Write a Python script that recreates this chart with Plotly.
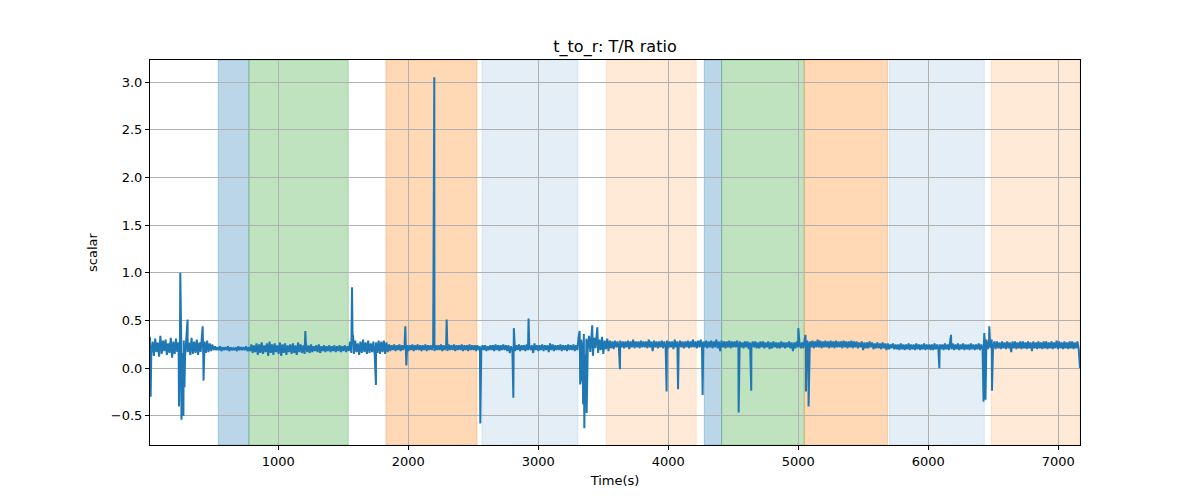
import numpy as np
import plotly.graph_objects as go

# ---- data ----
t_start, t_end = 13, 7167

# upper edge of the noisy trace, one sample every ~20 s
band_top = [
    0.33, 0.28, 0.31, 0.27, 0.34, 0.29, 0.30, 0.26, 0.32, 0.28, 0.31, 0.27, 0.33, 0.29, 0.30, 0.27, 0.32, 0.28,
    0.30, 0.27, 0.31, 0.28, 0.29, 0.26, 0.25, 0.23, 0.22, 0.23, 0.22, 0.22, 0.23, 0.22, 0.21, 0.22, 0.23, 0.22,
    0.22, 0.23, 0.22, 0.25, 0.24, 0.26, 0.25, 0.27, 0.24, 0.26, 0.28, 0.25, 0.26, 0.24, 0.27, 0.25, 0.26, 0.24,
    0.25, 0.26, 0.24, 0.27, 0.25, 0.24, 0.26, 0.24, 0.25, 0.23, 0.24, 0.25, 0.23, 0.24, 0.23, 0.24, 0.23, 0.24,
    0.23, 0.24, 0.23, 0.24, 0.23, 0.28, 0.27, 0.29, 0.26, 0.28, 0.30, 0.27, 0.29, 0.26, 0.28, 0.27, 0.29, 0.28,
    0.29, 0.27, 0.25, 0.24, 0.25, 0.24, 0.25, 0.24, 0.25, 0.24, 0.24, 0.25, 0.24, 0.25, 0.24, 0.24, 0.25, 0.24,
    0.24, 0.25, 0.24, 0.24, 0.25, 0.24, 0.24, 0.25, 0.24, 0.25, 0.24, 0.24, 0.25, 0.24, 0.24, 0.25, 0.24, 0.24,
    0.24, 0.23, 0.24, 0.24, 0.23, 0.24, 0.24, 0.25, 0.24, 0.24, 0.25, 0.24, 0.24, 0.23, 0.24, 0.24, 0.25, 0.24,
    0.24, 0.25, 0.24, 0.24, 0.26, 0.24, 0.24, 0.25, 0.24, 0.24, 0.26, 0.25, 0.24, 0.24, 0.25, 0.24, 0.24, 0.25,
    0.24, 0.25, 0.24, 0.33, 0.30, 0.36, 0.31, 0.34, 0.38, 0.32, 0.35, 0.30, 0.33, 0.29, 0.31, 0.29, 0.28, 0.29,
    0.28, 0.29, 0.28, 0.28, 0.29, 0.28, 0.30, 0.28, 0.28, 0.29, 0.28, 0.28, 0.30, 0.28, 0.29, 0.28, 0.28, 0.29,
    0.28, 0.29, 0.28, 0.28, 0.30, 0.28, 0.29, 0.28, 0.28, 0.29, 0.28, 0.30, 0.28, 0.29, 0.30, 0.28, 0.29, 0.28,
    0.29, 0.28, 0.30, 0.28, 0.29, 0.28, 0.28, 0.29, 0.28, 0.28, 0.29, 0.28, 0.27, 0.28, 0.28, 0.27, 0.28, 0.28,
    0.27, 0.28, 0.28, 0.27, 0.28, 0.27, 0.28, 0.27, 0.27, 0.28, 0.27, 0.27, 0.28, 0.27, 0.27, 0.28, 0.27, 0.27,
    0.30, 0.29, 0.28, 0.29, 0.28, 0.30, 0.29, 0.28, 0.29, 0.28, 0.29, 0.28, 0.29, 0.28, 0.28, 0.29, 0.28, 0.28,
    0.29, 0.28, 0.28, 0.27, 0.28, 0.27, 0.27, 0.28, 0.27, 0.26, 0.27, 0.26, 0.27, 0.26, 0.26, 0.25, 0.26, 0.25,
    0.25, 0.26, 0.25, 0.25, 0.26, 0.25, 0.25, 0.26, 0.25, 0.25, 0.26, 0.25, 0.25, 0.25, 0.26, 0.25, 0.25, 0.25,
    0.26, 0.25, 0.28, 0.26, 0.25, 0.26, 0.25, 0.26, 0.25, 0.25, 0.26, 0.25, 0.25, 0.26, 0.25, 0.25, 0.30, 0.29,
    0.30, 0.28, 0.28, 0.27, 0.28, 0.27, 0.28, 0.27, 0.28, 0.28, 0.27, 0.28, 0.28, 0.27, 0.28, 0.27, 0.28, 0.27,
    0.28, 0.27, 0.28, 0.28, 0.27, 0.28, 0.27, 0.29, 0.28, 0.27, 0.28, 0.27, 0.28, 0.28, 0.27, 0.28, 0.00,
]

# lower edge of the noisy trace, sampled half-way between the samples above
band_bottom = [
    0.16, 0.13, 0.17, 0.12, 0.15, 0.18, 0.14, 0.16, 0.11, 0.15, 0.17, 0.13, 0.16, 0.12, 0.17, 0.14, 0.15, 0.16,
    0.14, 0.17, 0.13, 0.16, 0.17, 0.18, 0.19, 0.19, 0.19, 0.18, 0.19, 0.19, 0.18, 0.19, 0.19, 0.18, 0.19, 0.19,
    0.19, 0.18, 0.18, 0.16, 0.17, 0.14, 0.16, 0.15, 0.17, 0.13, 0.16, 0.14, 0.17, 0.15, 0.13, 0.16, 0.14, 0.17,
    0.15, 0.16, 0.14, 0.17, 0.16, 0.15, 0.17, 0.16, 0.17, 0.18, 0.17, 0.16, 0.18, 0.17, 0.18, 0.17, 0.18, 0.17,
    0.18, 0.17, 0.18, 0.17, 0.18, 0.16, 0.15, 0.17, 0.14, 0.16, 0.17, 0.15, 0.16, 0.17, 0.14, 0.16, 0.15, 0.17,
    0.15, 0.17, 0.18, 0.19, 0.18, 0.19, 0.18, 0.19, 0.19, 0.18, 0.19, 0.18, 0.19, 0.19, 0.18, 0.19, 0.18, 0.19,
    0.19, 0.18, 0.19, 0.19, 0.18, 0.19, 0.18, 0.19, 0.19, 0.18, 0.19, 0.19, 0.18, 0.19, 0.18, 0.19, 0.19, 0.18,
    0.19, 0.18, 0.19, 0.18, 0.19, 0.19, 0.18, 0.19, 0.18, 0.19, 0.19, 0.18, 0.16, 0.19, 0.18, 0.19, 0.18, 0.19,
    0.18, 0.19, 0.19, 0.16, 0.19, 0.18, 0.19, 0.18, 0.19, 0.17, 0.19, 0.18, 0.19, 0.19, 0.18, 0.19, 0.18, 0.19,
    0.19, 0.18, 0.19, 0.16, 0.19, 0.14, 0.20, 0.17, 0.13, 0.21, 0.16, 0.19, 0.15, 0.20, 0.18, 0.21, 0.20, 0.22,
    0.21, 0.22, 0.21, 0.22, 0.20, 0.22, 0.21, 0.22, 0.21, 0.22, 0.22, 0.21, 0.22, 0.18, 0.22, 0.21, 0.22, 0.21,
    0.22, 0.21, 0.22, 0.20, 0.22, 0.21, 0.22, 0.21, 0.22, 0.21, 0.22, 0.22, 0.21, 0.22, 0.21, 0.22, 0.21, 0.22,
    0.21, 0.22, 0.21, 0.18, 0.22, 0.21, 0.22, 0.21, 0.22, 0.22, 0.21, 0.22, 0.21, 0.22, 0.20, 0.21, 0.22, 0.21,
    0.21, 0.22, 0.21, 0.22, 0.20, 0.21, 0.22, 0.21, 0.21, 0.22, 0.21, 0.22, 0.21, 0.18, 0.21, 0.22, 0.21, 0.21,
    0.21, 0.22, 0.22, 0.21, 0.22, 0.22, 0.21, 0.22, 0.22, 0.21, 0.22, 0.21, 0.22, 0.22, 0.21, 0.22, 0.21, 0.22,
    0.21, 0.22, 0.21, 0.22, 0.19, 0.21, 0.21, 0.22, 0.20, 0.21, 0.21, 0.20, 0.21, 0.19, 0.20, 0.21, 0.20, 0.20,
    0.19, 0.20, 0.19, 0.20, 0.19, 0.20, 0.19, 0.20, 0.19, 0.20, 0.19, 0.20, 0.19, 0.19, 0.20, 0.19, 0.20, 0.19,
    0.20, 0.19, 0.20, 0.19, 0.20, 0.19, 0.20, 0.19, 0.20, 0.19, 0.20, 0.19, 0.20, 0.19, 0.20, 0.19, 0.20, 0.21,
    0.21, 0.20, 0.21, 0.20, 0.21, 0.20, 0.21, 0.17, 0.21, 0.20, 0.21, 0.20, 0.21, 0.20, 0.21, 0.18, 0.21, 0.20,
    0.21, 0.20, 0.21, 0.20, 0.21, 0.20, 0.21, 0.20, 0.21, 0.20, 0.21, 0.20, 0.21, 0.20, 0.21, 0.20,
]

spike_t = [18, 236, 246, 255, 262, 270, 278, 302, 418, 425, 1208, 1567, 1575, 1751, 1977, 1985,
           2200, 2295, 2554, 2808, 2812, 2925, 3318, 3322, 3330, 3345, 3354, 3365, 3372, 3415, 3454,
           3628, 3987, 4075, 4264, 4541, 4638, 5000, 5055, 5059, 5079, 6085, 6175, 6425, 6431,
           6440, 6469, 6490]
spike_v = [-0.30, -0.40, 1.00, -0.54, -0.30, -0.50, -0.20, 0.51, 0.44, -0.13, 0.39, 0.85, 0.35, -0.175, 0.44, 0.03,
           3.05, 0.51, -0.58, -0.31, 0.42, 0.52, 0.39, -0.17, -0.10, -0.38, -0.63, -0.15, -0.47, 0.45, 0.43,
           -0.01, -0.245, -0.22, -0.28, -0.465, -0.235, 0.42, 0.35, -0.245, -0.40, 0.00, 0.35, -0.35, 0.37,
           -0.33, 0.44, -0.235]

# shaded phases
span_start = [538, 774, 1828, 2567, 3523, 4277, 4410, 5046, 5700, 6485]
span_end = [774, 1538, 2528, 3305, 4215, 4410, 5046, 5687, 6431, 7167]
span_kind = ["blue", "green", "orange", "lightblue", "lightorange",
             "blue", "green", "orange", "lightblue", "lightorange"]

kind_color = {
    "blue": "rgba(31,119,180,0.30)",
    "green": "rgba(44,160,44,0.30)",
    "orange": "rgba(255,127,14,0.30)",
    "lightblue": "rgba(31,119,180,0.12)",
    "lightorange": "rgba(255,127,14,0.16)",
}

# ---- build series ----
top_t = np.linspace(t_start, t_end, len(band_top))
bottom_t = (top_t[:-1] + top_t[1:]) / 2
all_t = np.concatenate([top_t, bottom_t, np.array(spike_t, dtype=float)])
all_v = np.concatenate([np.array(band_top), np.array(band_bottom), np.array(spike_v)])
order = np.argsort(all_t, kind="stable")
all_t = all_t[order]
all_v = all_v[order]

fig = go.Figure()
fig.add_trace(go.Scatter(x=all_t, y=all_v, mode="lines",
                         line=dict(color="#1f77b4", width=2), showlegend=False))

for s, e, k in zip(span_start, span_end, span_kind):
    fig.add_vrect(x0=s, x1=e, fillcolor=kind_color[k], line=dict(color=kind_color[k], width=1),
                  layer="below")

# page has an 8px body margin; compensate so the plot area lands at 150..1080 x 60..445
font_family = "DejaVu Sans, sans-serif"
fig.update_layout(
    width=1200, height=500,
    margin=dict(l=142, r=128, t=52, b=63),
    paper_bgcolor="white", plot_bgcolor="white",
    font=dict(family=font_family, size=13, color="black"),
    title=dict(text="t_to_r: T/R ratio", x=607 / 1200, xanchor="center",
               y=1 - 38 / 500, yanchor="middle", font=dict(size=16, family=font_family)),
)
fig.update_xaxes(
    range=[t_start, t_end], tickvals=[1000, 2000, 3000, 4000, 5000, 6000, 7000],
    showgrid=True, gridcolor="#b0b0b0", gridwidth=0.8,
    showline=True, linecolor="black", linewidth=1, mirror=True,
    ticks="outside", ticklen=4, tickcolor="black", zeroline=False,
    title=dict(text="Time(s)", font=dict(size=13), standoff=8),
)
fig.update_yaxes(
    range=[-0.805, 3.232], tickvals=[-0.5, 0.0, 0.5, 1.0, 1.5, 2.0, 2.5, 3.0], tickformat=".1f",
    showgrid=True, gridcolor="#b0b0b0", gridwidth=0.8,
    showline=True, linecolor="black", linewidth=1, mirror=True,
    ticks="outside", ticklen=4, tickcolor="black", zeroline=False,
    title=dict(text="scalar", font=dict(size=13), standoff=10),
)

fig.write_html("out.html")
